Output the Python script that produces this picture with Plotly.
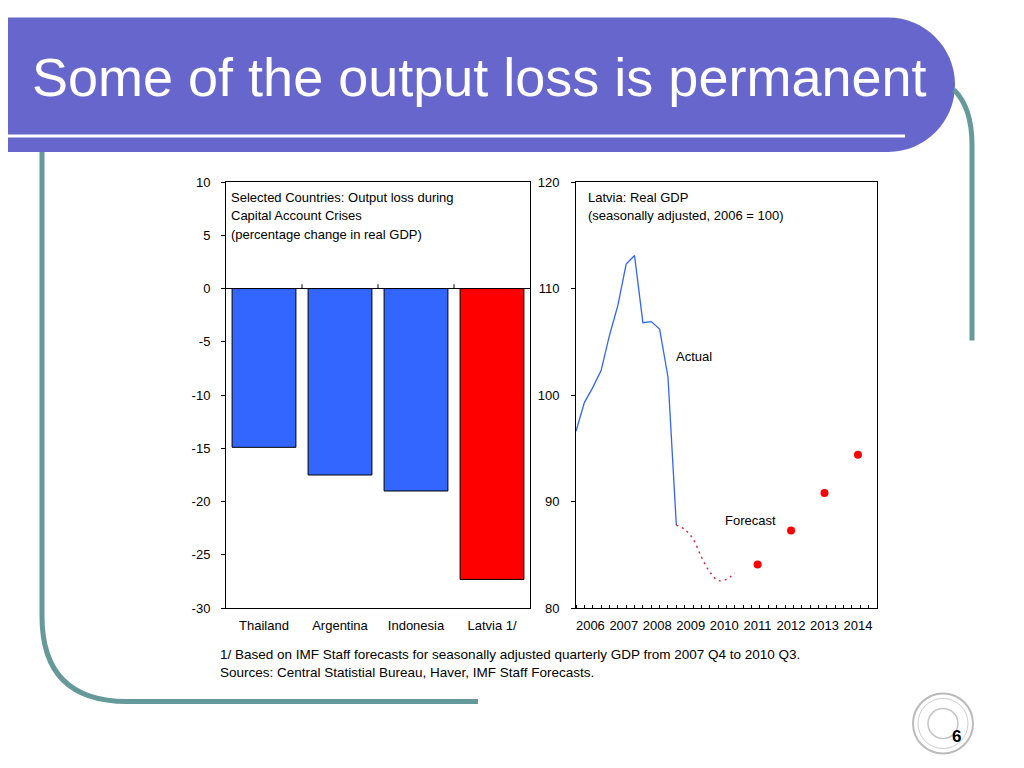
import plotly.graph_objects as go

# ---------------- data ----------------
countries = ["Thailand", "Argentina", "Indonesia", "Latvia 1/"]
output_loss = [-14.9, -17.5, -19.0, -27.3]
bar_colors = ["#3366FF", "#3366FF", "#3366FF", "#FF0000"]
left_ticks = [10, 5, 0, -5, -10, -15, -20, -25, -30]

actual_quarters = ["2006Q1", "2006Q2", "2006Q3", "2006Q4", "2007Q1", "2007Q2", "2007Q3",
                   "2007Q4", "2008Q1", "2008Q2", "2008Q3", "2008Q4", "2009Q1"]
actual_gdp = [96.6, 99.3, 100.7, 102.3, 105.6, 108.4, 112.3, 113.1, 106.8, 106.9, 106.2, 101.7, 87.8]

forecast_quarters = ["2009Q1", "2009Q2", "2009Q3", "2009Q4", "2010Q1", "2010Q2", "2010Q3", "2010Q4"]
forecast_gdp = [87.8, 87.4, 86.5, 84.8, 83.4, 82.6, 82.7, 83.3]

forecast_years = [2011, 2012, 2013, 2014]
forecast_annual = [84.1, 87.3, 90.8, 94.4]

year_labels = [2006, 2007, 2008, 2009, 2010, 2011, 2012, 2013, 2014]
right_ticks = [80, 90, 100, 110, 120]


def qpos(q):
    y, n = q.split("Q")
    return int(y) + (int(n) - 1) * 0.25


def ypos(yr):
    return yr + 0.43


W, H = 1024, 768
# page-to-paper mapping (compensates for page offset of the rendered figure)
X_OFF, Y_OFF, Y_SPAN = 8.0, 15.4, 751.0


def px(x):
    return (x - X_OFF) / W


def py(y):
    return 1 - (y - Y_OFF) / Y_SPAN


FONT = "Liberation Sans, Arial, sans-serif"

fig = go.Figure()

fig.add_trace(go.Bar(
    x=countries, y=output_loss, marker=dict(color=bar_colors, line=dict(color="black", width=1)),
    xaxis="x", yaxis="y", showlegend=False))

fig.add_trace(go.Scatter(
    x=[qpos(q) for q in actual_quarters], y=actual_gdp, mode="lines",
    line=dict(color="#3366EE", width=1.3), xaxis="x2", yaxis="y2", showlegend=False))

fig.add_trace(go.Scatter(
    x=[qpos(q) for q in forecast_quarters], y=forecast_gdp, mode="lines",
    line=dict(color="#E0203A", width=1.4, dash="2px,4px", shape="spline"), xaxis="x2", yaxis="y2",
    showlegend=False))

fig.add_trace(go.Scatter(
    x=[ypos(y) for y in forecast_years], y=forecast_annual, mode="markers",
    marker=dict(color="#FF0000", size=8), xaxis="x2", yaxis="y2", showlegend=False))

axis_common = dict(showline=True, linecolor="black", linewidth=1, mirror=True, showgrid=False,
                   tickfont=dict(family=FONT, size=13, color="black"))

fig.update_layout(
    width=W, height=H, margin=dict(l=0, r=0, t=0, b=0),
    paper_bgcolor="white", plot_bgcolor="white", bargap=0.16,
    xaxis=dict(domain=[px(226), px(530)], anchor="y", ticks="", zeroline=False,
               range=[-0.5, 3.5], ticklabelstandoff=5, **axis_common),
    yaxis=dict(domain=[py(607), py(182)], anchor="x", range=[-30, 10],
               tickvals=left_ticks, ticktext=[str(v) for v in left_ticks],
               ticks="outside", ticklen=4, tickcolor="black", zeroline=True, zerolinecolor="black",
               zerolinewidth=1, ticklabelstandoff=8, **axis_common),
    xaxis2=dict(domain=[px(576), px(877)], anchor="y2", range=[2006, 2015], zeroline=False,
                tickvals=[ypos(y) for y in year_labels], ticktext=[str(y) for y in year_labels],
                ticks="", ticklabelstandoff=5,
                minor=dict(dtick=0.25, tick0=2006, ticks="inside", ticklen=3, tickcolor="black",
                           showgrid=False),
                **axis_common),
    yaxis2=dict(domain=[py(607), py(182)], anchor="x2", range=[80, 120],
                tickvals=right_ticks, ticktext=[str(v) for v in right_ticks],
                ticks="outside", ticklen=4, tickcolor="black", zeroline=False,
                ticklabelstandoff=9, **axis_common),
)

shapes = []
# title banner
banner = (f"M {px(0)},{py(18)} L {px(888)},{py(18)} "
          f"C {px(925)},{py(18)} {px(955)},{py(48)} {px(955)},{py(85)} "
          f"C {px(955)},{py(122)} {px(925)},{py(152)} {px(888)},{py(152)} "
          f"L {px(0)},{py(152)} Z")
shapes.append(dict(type="path", xref="paper", yref="paper", path=banner,
                   fillcolor="#6666CC", line=dict(width=0), layer="below"))
shapes.append(dict(type="line", xref="paper", yref="paper", x0=px(0), x1=px(905), y0=py(136), y1=py(136),
                   line=dict(color="white", width=3)))
# teal frame lines
teal = "#669A9A"
left_path = (f"M {px(42)},{py(152)} L {px(42)},{py(615)} "
             f"Q {px(42)},{py(700)} {px(127)},{py(700)} L {px(478)},{py(700)}")
shapes.append(dict(type="path", xref="paper", yref="paper", path=left_path,
                   line=dict(color=teal, width=5), layer="below"))
right_path = (f"M {px(954)},{py(90)} Q {px(972)},{py(108)} {px(972)},{py(145)} L {px(972)},{py(340)}")
shapes.append(dict(type="path", xref="paper", yref="paper", path=right_path,
                   line=dict(color=teal, width=5), layer="below"))
# category boundary ticks on zero line
for b in [0.5, 1.5, 2.5]:
    shapes.append(dict(type="line", xref="x", yref="y", x0=b, x1=b, y0=0, y1=0.4,
                       line=dict(color="black", width=1)))
# faint IMF seal
for r, c, w in [(30, "#BBBBBB", 2), (25, "#CCCCCC", 1), (15, "#C4C4C4", 1.5)]:
    shapes.append(dict(type="circle", xref="paper", yref="paper",
                       x0=px(943 - r), x1=px(943 + r), y0=py(722 + r), y1=py(722 - r),
                       line=dict(color=c, width=w)))
fig.update_layout(shapes=shapes)

ann = []


def text(x, y, s, size=13, color="black", anchor="left", bold=False):
    ann.append(dict(xref="paper", yref="paper", x=px(x), y=py(y), text=(f"<b>{s}</b>" if bold else s),
                    showarrow=False, xanchor=anchor, yanchor="middle",
                    font=dict(family=FONT, size=size, color=color)))


text(30, 77, "Some of the output loss is permanent", size=54, color="white")
text(229, 197, "Selected Countries: Output loss during")
text(229, 215, "Capital Account Crises")
text(229, 234, "(percentage change in real GDP)")
text(586, 197, "Latvia: Real GDP")
text(586, 215, "(seasonally adjusted, 2006 = 100)")
text(674, 356, "Actual")
text(723, 520, "Forecast")
text(218, 653, "1/ Based on IMF Staff forecasts for seasonally adjusted quarterly GDP from 2007 Q4 to 2010 Q3.", size=13.5)
text(218, 671, "Sources: Central Statistial Bureau, Haver, IMF Staff Forecasts.", size=13.5)
text(956, 735, "6", size=17, bold=True, anchor="center")
fig.update_layout(annotations=ann)

fig.write_html("out.html")
